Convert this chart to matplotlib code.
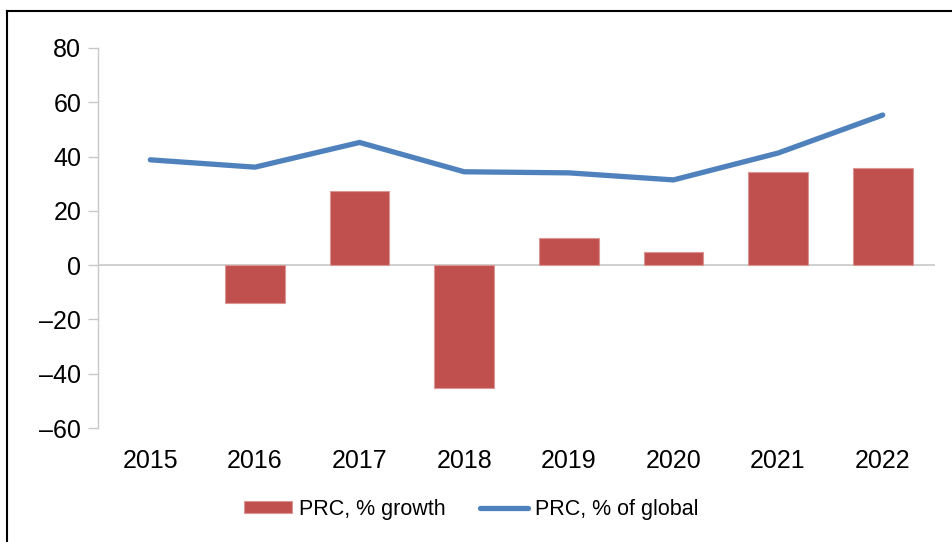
import matplotlib
matplotlib.use("Agg")
import matplotlib.pyplot as plt
from matplotlib.lines import Line2D
import numpy as np

years = ["2015", "2016", "2017", "2018", "2019", "2020", "2021", "2022"]
growth = [np.nan, -13.8, 27.3, -45.4, 9.9, 4.7, 34.4, 35.8]
share = [38.8, 36.1, 45.2, 34.4, 34.0, 31.4, 41.3, 55.3]

plt.rcParams['font.family'] = ['Liberation Sans', 'DejaVu Sans']

fig = plt.figure(figsize=(9.53, 5.42), dpi=100)
ax = fig.add_axes([98/953, 1-428/542, (935-98)/953, (428-48)/542])

x = np.arange(len(years))
bars = ax.bar(x, growth, width=0.57, color='#C0504D', edgecolor='#D99694', linewidth=0.8,
              label='PRC, % growth', zorder=2)
line, = ax.plot(x, share, color='#4F81BD', linewidth=3.8, solid_capstyle='round',
                solid_joinstyle='round', label='PRC, % of global', zorder=3)
ax.axhline(0, color='#C8C8C8', linewidth=1.2, zorder=1)

ax.set_xlim(-0.5, len(years) - 0.5)
ax.set_ylim(-60, 80)
ax.set_yticks(range(-60, 81, 20))
ax.set_yticklabels([str(v).replace('-', '\u2013') for v in range(-60, 81, 20)])
ax.set_xticks(x)
ax.set_xticklabels(years)

for s in ['top', 'right', 'bottom']:
    ax.spines[s].set_visible(False)
ax.spines['left'].set_color('#C8C8C8')
ax.spines['left'].set_linewidth(1.0)
ax.tick_params(axis='y', direction='out', length=7, width=1.0, color='#C8C8C8',
               labelsize=18, pad=5)
ax.tick_params(axis='x', length=0, labelsize=18, pad=15)

ax.legend(handles=[bars, line], loc='center', bbox_to_anchor=(471/953, 1-509/542),
          bbox_transform=fig.transFigure,
          ncol=2, frameon=False, fontsize=15.5, handlelength=2.25, handletextpad=0.3,
          columnspacing=1.6, handleheight=0.5)

fig.add_artist(Line2D([7/953, 7/953], [0, 1-11/542], color='black', linewidth=1.5,
                      transform=fig.transFigure))
fig.add_artist(Line2D([7/953, 1], [1-11/542, 1-11/542], color='black', linewidth=1.5,
                      transform=fig.transFigure))

fig.savefig('out.png', dpi=100)
